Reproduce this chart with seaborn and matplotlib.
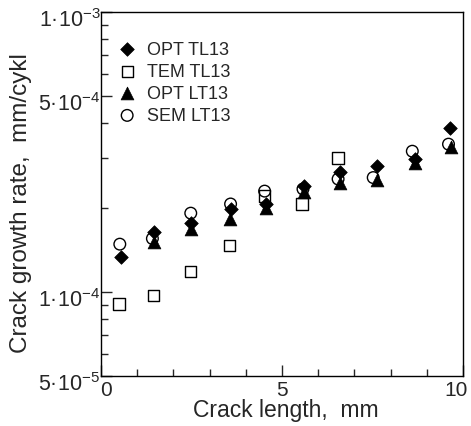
import numpy as np
import pandas as pd
import seaborn as sns
import matplotlib
matplotlib.use("Agg")
import matplotlib.pyplot as plt
from matplotlib.ticker import FixedLocator, NullFormatter
from matplotlib.transforms import ScaledTranslation

# crack length (mm) and growth rate (mm/cykl)
opt_tl_x = [0.55, 1.47, 2.50, 3.58, 4.55, 5.60, 6.61, 7.62, 8.68, 9.64]
opt_tl_y = [1.33e-4, 1.63e-4, 1.76e-4, 1.98e-4, 2.06e-4, 2.38e-4, 2.67e-4, 2.82e-4, 2.98e-4, 3.84e-4]

tem_tl_x = [0.50, 1.45, 2.48, 3.56, 4.51, 5.55, 6.55]
tem_tl_y = [9.04e-5, 9.7e-5, 1.18e-4, 1.46e-4, 2.2e-4, 2.06e-4, 3.01e-4]

opt_lt_x = [1.47, 2.50, 3.56, 4.55, 5.60, 6.60, 7.62, 8.68, 9.66]
opt_lt_y = [1.51e-4, 1.68e-4, 1.82e-4, 1.99e-4, 2.27e-4, 2.45e-4, 2.51e-4, 2.89e-4, 3.28e-4]

sem_lt_x = [0.52, 1.42, 2.48, 3.58, 4.52, 5.58, 6.55, 7.52, 8.60, 9.60]
sem_lt_y = [1.48e-4, 1.55e-4, 1.91e-4, 2.06e-4, 2.29e-4, 2.33e-4, 2.53e-4, 2.56e-4, 3.18e-4, 3.37e-4]

y_major = [5e-5, 1e-4, 5e-4, 1e-3]
y_major_labels = ["5·10$^{-5}$", "1·10$^{-4}$", "5·10$^{-4}$", "1·10$^{-3}$"]
y_minor = [6e-5, 7e-5, 8e-5, 9e-5, 2e-4, 3e-4, 4e-4, 6e-4, 7e-4, 8e-4, 9e-4]
x_major = [0, 5, 10]
x_minor = [1, 2, 3, 4, 6, 7, 8, 9]

sns.set_style("ticks")
plt.rcParams["font.family"] = ["Liberation Sans", "DejaVu Sans"]
plt.rcParams["mathtext.fontset"] = "custom"
plt.rcParams["mathtext.rm"] = "Liberation Sans"
plt.rcParams["mathtext.it"] = "Liberation Sans:italic"

fig = plt.figure(figsize=(4.71, 4.27), dpi=100)
ax = fig.add_axes([0.2144, 0.117, 0.7686, 0.8526])

sns.scatterplot(x=opt_tl_x, y=opt_tl_y, ax=ax, marker="D", s=48, color="black",
                edgecolor="black", linewidth=0.5, label="OPT TL13", zorder=3)
sns.scatterplot(x=tem_tl_x, y=tem_tl_y, ax=ax, marker="s", s=66, facecolor="none",
                edgecolor="black", linewidth=1.0, label="TEM TL13", zorder=3)
sns.scatterplot(x=opt_lt_x, y=opt_lt_y, ax=ax, marker="^", s=85, color="black",
                edgecolor="black", linewidth=0.5, label="OPT LT13", zorder=3)
sns.scatterplot(x=sem_lt_x, y=sem_lt_y, ax=ax, marker="o", s=70, facecolor="none",
                edgecolor="black", linewidth=1.0, label="SEM LT13", zorder=3)

ax.set_yscale("log")
ax.set_xlim(0, 10)
ax.set_ylim(5e-5, 1e-3)
ax.set_xticks(x_major)
ax.set_xticks(x_minor, minor=True)
ax.yaxis.set_major_locator(FixedLocator(y_major))
ax.yaxis.set_minor_locator(FixedLocator(y_minor))
ax.yaxis.set_minor_formatter(NullFormatter())
ax.set_yticklabels(y_major_labels)
ax.tick_params(which="major", direction="in", length=8, width=1)
ax.tick_params(which="minor", direction="in", length=5, width=1)
ax.tick_params(axis="x", labelsize=15, pad=3)
ax.tick_params(axis="y", labelsize=15.5, pad=0.5)
for sp in ax.spines.values():
    sp.set_linewidth(1.0)
    sp.set_color("black")

# nudge tick labels like the original print
down = ScaledTranslation(0, -0.05, fig.dpi_scale_trans)
for lab in ax.get_yticklabels():
    lab.set_transform(lab.get_transform() + down)
xl = ax.get_xticklabels()
xl[0].set_transform(xl[0].get_transform() + ScaledTranslation(0.05, 0, fig.dpi_scale_trans))
xl[-1].set_transform(xl[-1].get_transform() + ScaledTranslation(-0.065, 0, fig.dpi_scale_trans))

ax.set_xlabel("Crack length,  mm", fontsize=16.5)
ax.set_ylabel("Crack growth rate,  mm/cykl", fontsize=17.5)
ax.xaxis.set_label_coords(0.51, -0.06)
ax.yaxis.set_label_coords(-0.19, 0.478)

ax.legend(loc="upper left", bbox_to_anchor=(-0.015, 0.97), frameon=False, fontsize=13,
          handletextpad=0.35, labelspacing=0.28, borderaxespad=0.6, handlelength=1.5)

fig.savefig("out.png", dpi=100)
